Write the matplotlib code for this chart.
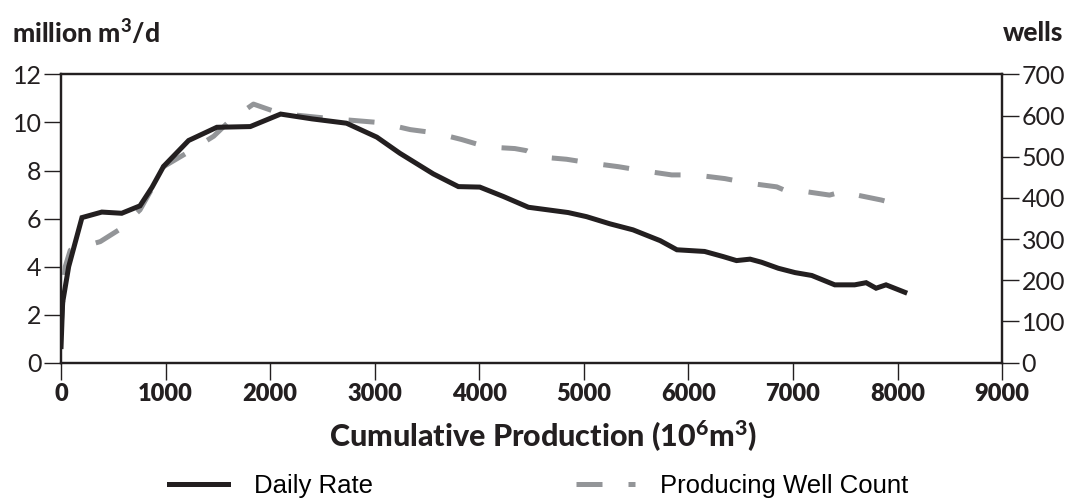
import matplotlib
matplotlib.use("Agg")
import matplotlib.pyplot as plt
from matplotlib.lines import Line2D

plt.rcParams['font.family'] = ['Lato', 'DejaVu Sans']
plt.rcParams['mathtext.default'] = 'regular'

# ---------------- data ----------------
rate_cum = [0, 15, 73, 200, 390, 580, 755, 870, 980, 1220, 1490, 1810, 2100,
            2400, 2730, 3020, 3240, 3560, 3800, 4005, 4230, 4470, 4850, 5025,
            5250, 5470, 5730, 5890, 6155, 6330, 6460, 6590, 6700, 6860, 7020,
            7180, 7400, 7590, 7700, 7795, 7890, 8070]
daily_rate = [0.67, 2.5, 4.0, 6.04, 6.27, 6.22, 6.53, 7.3, 8.17, 9.25, 9.8,
              9.83, 10.35, 10.15, 9.97, 9.39, 8.72, 7.86, 7.33, 7.31, 6.92,
              6.47, 6.25, 6.08, 5.78, 5.53, 5.08, 4.70, 4.63, 4.42, 4.25, 4.31,
              4.18, 3.93, 3.75, 3.63, 3.24, 3.24, 3.33, 3.10, 3.24, 2.93]

well_cum = [0, 40, 88, 375, 550, 755, 870, 980, 1220, 1460, 1620, 1840, 2100,
            2570, 2860, 3050, 3340, 3580, 3830, 4070, 4340, 4450, 4565, 4835,
            5060, 5330, 5570, 5840, 6065, 6350, 6575, 6845, 6955, 7080, 7350,
            7495, 7575, 7845, 7990, 8070]
well_count = [87, 233, 273, 294, 322, 371, 423, 476, 512, 550, 589, 628, 605,
              593, 587, 583, 566, 558, 542, 524, 520, 515, 500, 494, 485, 476,
              466, 456, 456, 447, 436, 427, 415, 417, 407, 417, 409, 395, 385,
              384]

x_ticks = [0, 1000, 2000, 3000, 4000, 5000, 6000, 7000, 8000, 9000]
left_ticks = [0, 2, 4, 6, 8, 10, 12]
right_ticks = [0, 100, 200, 300, 400, 500, 600, 700]

black = '#231f20'
grey = '#939598'
dash = (0, (5.2, 5.2))

fig = plt.figure(figsize=(10.73, 5.03), dpi=100)
ax = fig.add_axes([0.0569, 0.279, 0.877, 0.573])
ax2 = ax.twinx()

ax2.plot(well_cum, well_count, color=grey, lw=3.6, linestyle=dash,
         solid_joinstyle='miter', zorder=2)
ax.plot(rate_cum, daily_rate, color=black, lw=3.6, solid_joinstyle='miter', zorder=3)
ax.set_zorder(ax2.get_zorder() + 1)
ax.patch.set_visible(False)

ax.set_xlim(0, 9000)
ax.set_ylim(0, 12)
ax2.set_ylim(0, 700)
ax.set_xticks(x_ticks)
ax.set_yticks(left_ticks)
ax2.set_yticks(right_ticks)

for a in (ax, ax2):
    for s in a.spines.values():
        s.set_linewidth(1.6)
        s.set_color(black)

ax.tick_params(axis='y', direction='out', length=12, width=1, pad=2,
               labelsize=18, colors=black)
ax2.tick_params(axis='y', direction='out', length=12, width=1, pad=2,
                labelsize=18, colors=black)
ax.tick_params(axis='x', direction='out', length=12, width=1, pad=3,
               labelsize=17, colors=black)
for lbl in ax.get_xticklabels():
    lbl.set_fontweight('heavy')

ax.set_xlabel('Cumulative Production (10$^6$m$^3$)', fontsize=22,
              fontweight='black', color=black, labelpad=9)
ax.xaxis.label.set_x(0.512)

fig.text(0.011, 0.935, 'million m$^3$/d', fontsize=19, fontweight='black',
         color=black, ha='left', va='center')
fig.text(0.991, 0.935, 'wells', fontsize=19, fontweight='black',
         color=black, ha='right', va='center')

handles = [Line2D([], [], color=black, lw=3.6),
           Line2D([], [], color=grey, lw=3.6, linestyle=dash)]
fig.legend(handles, ['Daily Rate', 'Producing Well Count'], loc='center',
           bbox_to_anchor=(0.502, 0.033), ncol=2, frameon=False,
           prop={'family': 'Liberation Sans', 'size': 18.5},
           handlelength=2.3, handletextpad=1.0, columnspacing=7.9)

fig.savefig('out.png', dpi=100)
